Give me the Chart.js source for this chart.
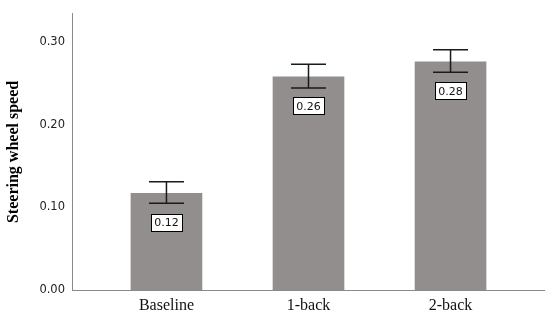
<!DOCTYPE html>
<html>
<head>
<meta charset="utf-8">
<script src="https://cdn.jsdelivr.net/npm/chart.js@4/dist/chart.umd.min.js"></script>
<style>
html,body{margin:0;padding:0;background:#fff;}
#wrap{width:550px;height:320px;position:relative;}
</style>
</head>
<body>
<div id="wrap"><canvas id="c" width="550" height="320"></canvas></div>
<script>
const categories = ['Baseline', '1-back', '2-back'];
const meanValues = [0.117, 0.258, 0.276];
const errorLow = [0.105, 0.2445, 0.2635];
const errorHigh = [0.131, 0.273, 0.2905];
const yTicks = [0, 0.1, 0.2, 0.3];
const yTitle = 'Steering wheel speed';

const errorBarPlugin = {
  id: 'errorBars',
  afterDatasetsDraw(chart) {
    const ctx = chart.ctx;
    const xs = chart.scales.x, ys = chart.scales.y;
    ctx.save();
    ctx.strokeStyle = '#1a1a1a';
    ctx.lineWidth = 1.5;
    const half = 17.5;
    categories.forEach((c, i) => {
      const x = xs.getPixelForValue(i);
      const yl = ys.getPixelForValue(errorLow[i]);
      const yh = ys.getPixelForValue(errorHigh[i]);
      ctx.beginPath();
      ctx.moveTo(x, yl); ctx.lineTo(x, yh);
      ctx.moveTo(x - half, yl); ctx.lineTo(x + half, yl);
      ctx.moveTo(x - half, yh); ctx.lineTo(x + half, yh);
      ctx.stroke();
    });
    ctx.font = '11px "DejaVu Sans"';
    ctx.textAlign = 'center';
    ctx.textBaseline = 'middle';
    categories.forEach((c, i) => {
      const x = xs.getPixelForValue(i);
      const y = ys.getPixelForValue(meanValues[i]) + 29;
      const txt = meanValues[i].toFixed(2);
      const w = 31, h = 17;
      ctx.fillStyle = '#fff';
      ctx.fillRect(Math.round(x - w / 2) + 0.5, Math.round(y - h / 2) + 0.5, w, h);
      ctx.strokeStyle = '#000';
      ctx.lineWidth = 1;
      ctx.strokeRect(Math.round(x - w / 2) + 0.5, Math.round(y - h / 2) + 0.5, w, h);
      ctx.fillStyle = '#111';
      ctx.fillText(txt, x, y + 1);
    });
    ctx.restore();
  }
};

new Chart(document.getElementById('c'), {
  type: 'bar',
  data: {
    datasets: [{
      data: meanValues.map((v, i) => ({ x: i, y: v })),
      backgroundColor: '#928e8e',
      borderWidth: 0,
      barThickness: 71
    }]
  },
  options: {
    responsive: false,
    animation: false,
    layout: { padding: { top: 7, right: 6, left: 0, bottom: 0 } },
    plugins: { legend: { display: false }, tooltip: { enabled: false } },
    scales: {
      x: {
        type: 'linear',
        offset: false,
        min: -0.665,
        max: 2.658,
        afterBuildTicks(scale) { scale.ticks = categories.map((c, i) => ({ value: i })); },
        afterFit(scale) { scale.height = 30; },
        grid: { display: false, drawTicks: false, offset: false },
        border: { display: true, color: '#8a8a8a', width: 1 },
        ticks: {
          autoSkip: false,
          maxRotation: 0,
          padding: 6,
          color: '#111',
          font: { family: '"Liberation Serif"', size: 16 },
          callback: (v) => categories[v]
        }
      },
      y: {
        min: 0,
        max: 0.334,
        afterBuildTicks(scale) { scale.ticks = yTicks.map(v => ({ value: v })); },
        afterFit(scale) { scale.width = 72; },
        grid: { display: false, drawTicks: false },
        border: { display: true, color: '#8a8a8a', width: 1 },
        ticks: {
          padding: 7,
          color: '#222',
          font: { family: '"DejaVu Sans"', size: 11.5 },
          callback: (v) => Number(v).toFixed(2)
        },
        title: {
          display: true,
          text: yTitle,
          color: '#000',
          font: { family: '"Liberation Serif"', size: 16, weight: 'bold' },
          padding: { top: 4, bottom: 0 }
        }
      }
    }
  },
  plugins: [errorBarPlugin]
});
</script>
</body>
</html>
